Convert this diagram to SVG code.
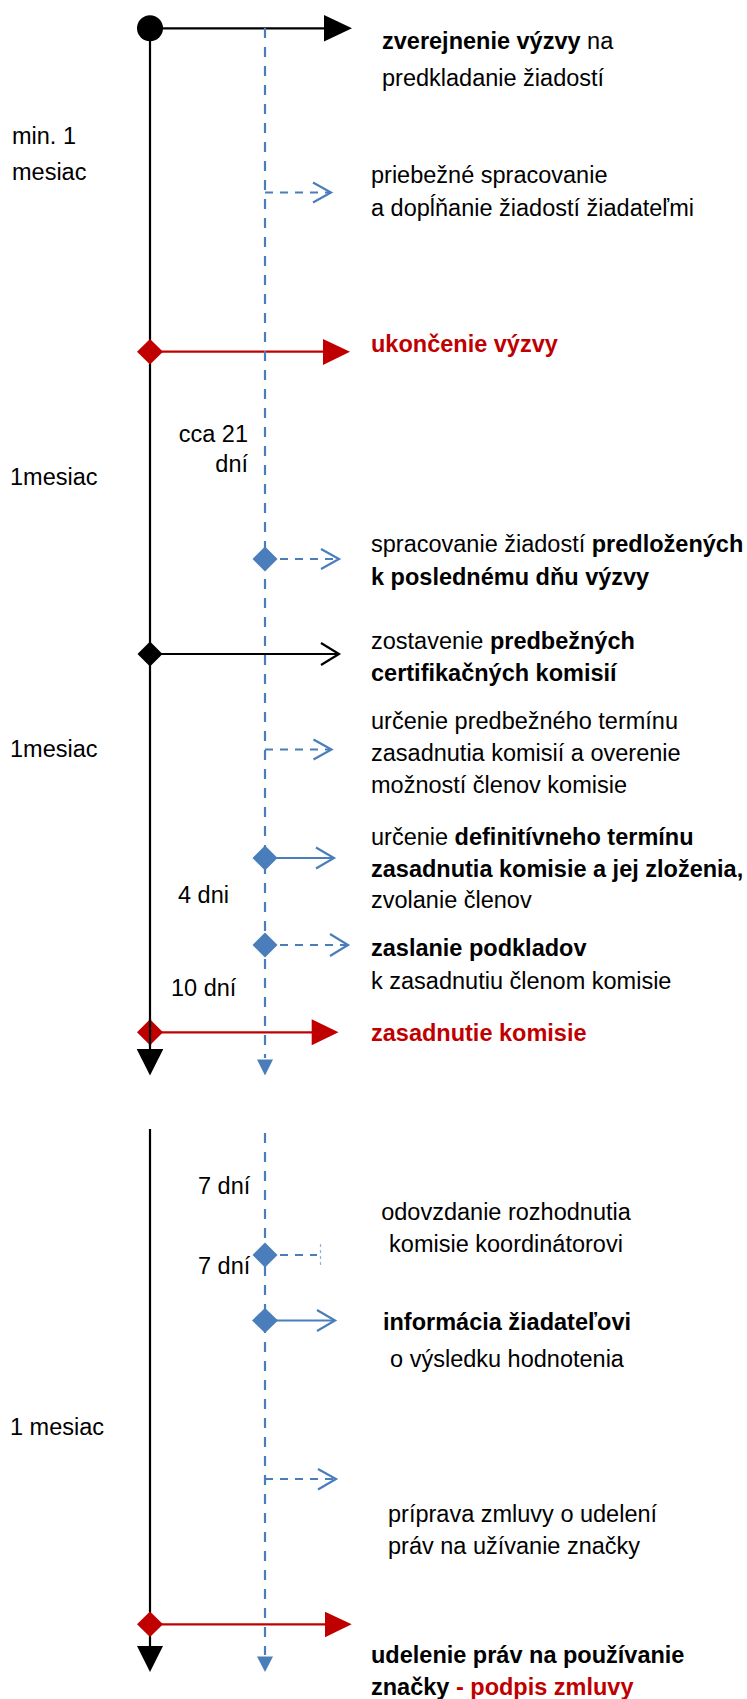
<svg xmlns="http://www.w3.org/2000/svg" width="747" height="1699" viewBox="0 0 747 1699">
<style>
.k{stroke:#000;stroke-width:2.2;fill:none}
.r{stroke:#C00000;stroke-width:2.2;fill:none}
.b{stroke:#4A7EBB;stroke-width:2.2;fill:none}
.bd{stroke:#4A7EBB;stroke-width:2.2;stroke-dasharray:8 7;fill:none}
.bv{stroke:#4A7EBB;stroke-width:2.2;stroke-dasharray:10 9;fill:none}
.kf{fill:#000}
.rf{fill:#C00000}
.bf{fill:#4A7EBB}
.t{font-family:"Liberation Sans",Arial,sans-serif;font-size:23.5px;fill:#000}
.bo{font-weight:bold}
.red{fill:#C00000}
.mid{text-anchor:middle}
.end{text-anchor:end}
</style>
<rect width="747" height="1699" fill="#fff"/>
<g id="connectors">
  <line class="k" x1="150" y1="28.3" x2="325" y2="28.3"/>
  <polygon class="kf" points="324,15 324,41.6 352,28.3"/>
  <line class="bd" x1="265" y1="192.5" x2="329" y2="192.5"/>
  <polyline class="b" points="313,182.5 331,192.5 313,202.5"/>
  <line class="r" x1="150" y1="351.7" x2="325" y2="351.7"/>
  <polygon class="rf" points="323,339 323,365 350,351.7"/>
  <line class="bd" x1="265" y1="559" x2="337" y2="559"/>
  <polyline class="b" points="321,549 339,559 321,569"/>
  <line class="k" x1="150" y1="654" x2="337" y2="654"/>
  <polyline class="k" points="321,643 339,654 321,665"/>
  <line class="bd" x1="265" y1="749.5" x2="329" y2="749.5"/>
  <polyline class="b" points="313.5,739.5 331.5,749.5 313.5,759.5"/>
  <line class="b" x1="265" y1="858" x2="332" y2="858"/>
  <polyline class="b" points="316,847.5 334,858 316,868.5"/>
  <line class="bd" x1="265" y1="945" x2="346" y2="945"/>
  <polyline class="b" points="330,934 348,945 330,956"/>
  <line class="r" x1="150" y1="1032.3" x2="313" y2="1032.3"/>
  <polygon class="rf" points="311.7,1019.3 311.7,1045.3 338.5,1032.3"/>
  <line class="bd" x1="265" y1="1255" x2="317" y2="1255"/>
  <line stroke="#4A7EBB" stroke-width="1.2" stroke-opacity="0.6" stroke-dasharray="3 3" x1="320.5" y1="1244" x2="320.5" y2="1266"/>
  <line class="b" x1="265" y1="1320.5" x2="333" y2="1320.5"/>
  <polyline class="b" points="317,1310 335,1320.5 317,1331"/>
  <line class="bd" x1="265" y1="1479" x2="334" y2="1479"/>
  <polyline class="b" points="318,1469 336,1479 318,1489.5"/>
  <line class="r" x1="150" y1="1624.3" x2="326" y2="1624.3"/>
  <polygon class="rf" points="325,1611.7 325,1637.3 351.7,1624.3"/>
  <line class="k" x1="150" y1="28" x2="150" y2="1050"/>
  <polygon class="kf" points="136.7,1049 163.3,1049 150,1075.5"/>
  <line class="bv" x1="265" y1="28" x2="265" y2="1058"/>
  <polygon class="bf" points="257,1059.5 273,1059.5 265,1075.5"/>
  <line class="k" x1="150" y1="1129" x2="150" y2="1647"/>
  <polygon class="kf" points="137,1646 163,1646 150,1672"/>
  <line class="bv" x1="265" y1="1133" x2="265" y2="1655"/>
  <polygon class="bf" points="257,1656.5 273,1656.5 265,1672"/>
</g>
<g id="n-zverejnenie">
  <circle class="kf" cx="150" cy="28.3" r="13"/>
  <text class="t" x="382" y="49"><tspan class="bo">zverejnenie výzvy</tspan> na</text>
  <text class="t" x="382" y="86">predkladanie žiadostí</text>
</g>
<g id="l-min1mesiac">
  <text class="t" x="12" y="144">min. 1</text>
  <text class="t" x="12" y="180">mesiac</text>
</g>
<g id="n-priebezne">
  <text class="t" x="371" y="183">priebežné spracovanie</text>
  <text class="t" x="371" y="216">a dopĺňanie žiadostí žiadateľmi</text>
</g>
<g id="n-ukoncenie">
  <path class="rf" d="M150,339 L163,351.7 L150,364.5 L137,351.7 Z"/>
  <text class="t bo red" x="371" y="352">ukončenie výzvy</text>
</g>
<g id="l-cca21">
  <text class="t end" x="248" y="442">cca 21</text>
  <text class="t end" x="248" y="472">dní</text>
</g>
<g id="l-1mesiac-a">
  <text class="t" x="10" y="485">1mesiac</text>
</g>
<g id="n-spracovanie">
  <path class="bf" d="M265,546.5 L277.5,559 L265,571.5 L252.5,559 Z"/>
  <text class="t" x="371" y="552">spracovanie žiadostí <tspan class="bo">predložených</tspan></text>
  <text class="t bo" x="371" y="585">k poslednému dňu výzvy</text>
</g>
<g id="n-zostavenie">
  <path class="kf" d="M150,641.5 L162.5,654 L150,666.5 L137.5,654 Z"/>
  <text class="t" x="371" y="649">zostavenie <tspan class="bo">predbežných</tspan></text>
  <text class="t bo" x="371" y="681">certifikačných komisií</text>
</g>
<g id="n-urcenie-predbezne">
  <text class="t" x="371" y="729">určenie predbežného termínu</text>
  <text class="t" x="371" y="761">zasadnutia komisií a overenie</text>
  <text class="t" x="371" y="793">možností členov komisie</text>
</g>
<g id="l-1mesiac-b">
  <text class="t" x="10" y="757">1mesiac</text>
</g>
<g id="n-urcenie-definitivne">
  <path class="bf" d="M265,845.5 L277.5,858 L265,870.5 L252.5,858 Z"/>
  <text class="t" x="371" y="845">určenie <tspan class="bo">definitívneho termínu</tspan></text>
  <text class="t bo" x="371" y="877">zasadnutia komisie a jej zloženia,</text>
  <text class="t" x="371" y="908">zvolanie členov</text>
</g>
<g id="l-4dni">
  <text class="t" x="178" y="903">4 dni</text>
</g>
<g id="n-zaslanie">
  <path class="bf" d="M265,932.5 L277.5,945 L265,957.5 L252.5,945 Z"/>
  <text class="t bo" x="371" y="956">zaslanie podkladov</text>
  <text class="t" x="371" y="989">k zasadnutiu členom komisie</text>
</g>
<g id="l-10dni">
  <text class="t" x="171" y="996">10 dní</text>
</g>
<g id="n-zasadnutie">
  <path class="rf" d="M150,1019.3 L163,1032.3 L150,1045.3 L137,1032.3 Z"/>
  <line class="k" x1="150" y1="1019" x2="150" y2="1046"/>
  <text class="t bo red" x="371" y="1041">zasadnutie komisie</text>
</g>
<g id="l-7dni-a">
  <text class="t" x="198" y="1194">7 dní</text>
</g>
<g id="n-odovzdanie">
  <path class="bf" d="M265,1242.5 L277.5,1255 L265,1267.5 L252.5,1255 Z"/>
  <text class="t mid" x="506" y="1220">odovzdanie rozhodnutia</text>
  <text class="t mid" x="506" y="1252">komisie koordinátorovi</text>
</g>
<g id="l-7dni-b">
  <text class="t" x="198" y="1274">7 dní</text>
</g>
<g id="n-informacia">
  <path class="bf" d="M265,1308 L278,1320.5 L265,1333 L252,1320.5 Z"/>
  <text class="t mid bo" x="507" y="1330">informácia žiadateľovi</text>
  <text class="t mid" x="507" y="1367">o výsledku hodnotenia</text>
</g>
<g id="l-1mesiac-c">
  <text class="t" x="10" y="1435">1 mesiac</text>
</g>
<g id="n-priprava">
  <text class="t" x="388" y="1522">príprava zmluvy o udelení</text>
  <text class="t" x="388" y="1554">práv na užívanie značky</text>
</g>
<g id="n-udelenie">
  <path class="rf" d="M150,1611.5 L163,1624.3 L150,1637 L137,1624.3 Z"/>
  <text class="t bo" x="371" y="1663">udelenie práv na používanie</text>
  <text class="t bo" x="371" y="1695">značky<tspan class="red"> - podpis zmluvy</tspan></text>
</g>
</svg>
